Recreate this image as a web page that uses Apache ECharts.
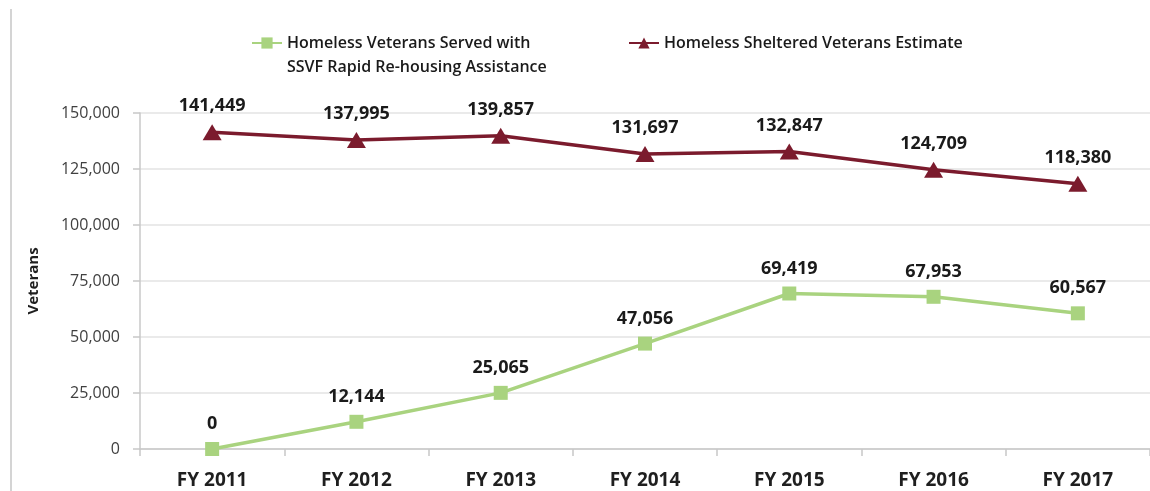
<!DOCTYPE html>
<html>
<head>
<meta charset="utf-8">
<style>
  html, body { margin: 0; padding: 0; background: #ffffff; }
  #chart { width: 1150px; height: 491px; }
</style>
<script src="https://cdn.jsdelivr.net/npm/echarts@6/dist/echarts.min.js"></script>
</head>
<body>
<div id="chart"></div>
<script>
// Fiscal years on the category axis
const years = ['FY 2011', 'FY 2012', 'FY 2013', 'FY 2014', 'FY 2015', 'FY 2016', 'FY 2017'];

// Veterans served with SSVF rapid re-housing assistance
const ssvfServed = [0, 12144, 25065, 47056, 69419, 67953, 60567];

// Estimated number of sheltered homeless veterans
const shelteredEstimate = [141449, 137995, 139857, 131697, 132847, 124709, 118380];

// Value axis ticks
const yMin = 0;
const yMax = 150000;
const yStep = 25000;

const seriesNames = [
  'Homeless Veterans Served with SSVF Rapid Re-housing Assistance',
  'Homeless Sheltered Veterans Estimate'
];

const GREEN = '#a9d37f';
const MAROON = '#7b1b2d';
const FONT = '"Open Sans", "Noto Sans", sans-serif';

const fmt = v => v.toLocaleString('en-US');

const chart = echarts.init(document.getElementById('chart'), null, { renderer: 'canvas' });

const labelStyle = {
  show: true,
  position: 'top',
  distance: 9,
  fontFamily: FONT,
  fontSize: 18,
  fontWeight: 'bold',
  color: '#1a1a1a',
  formatter: p => fmt(p.value)
};

const legendText = {
  fontFamily: FONT,
  fontSize: 16,
  fontWeight: 600,
  color: '#1a1a1a',
  lineHeight: 24
};

chart.setOption({
  animation: false,
  backgroundColor: '#ffffff',
  textStyle: { fontFamily: FONT },
  graphic: [{
    type: 'line',
    shape: { x1: 11, y1: 9, x2: 11, y2: 491 },
    style: { stroke: '#d4d4d4', lineWidth: 2 },
    silent: true
  }],
  legend: [
    {
      // leading blank line keeps the marker level with the first text line
      data: [seriesNames[0]],
      formatter: () => '\nHomeless Veterans Served with\nSSVF Rapid Re-housing Assistance',
      left: 246,
      top: 2,
      itemWidth: 30,
      itemHeight: 14,
      itemGap: 0,
      textStyle: legendText
    },
    {
      data: [seriesNames[1]],
      left: 623,
      top: 26,
      itemWidth: 30,
      itemHeight: 14,
      textStyle: legendText
    }
  ],
  grid: {
    left: 140,
    top: 113,
    width: 1016,
    height: 336,
    containLabel: false
  },
  xAxis: {
    type: 'category',
    data: years,
    boundaryGap: true,
    axisLine: { show: true, lineStyle: { color: '#c8c8c8', width: 1.5 } },
    axisTick: { show: true, length: 7, lineStyle: { color: '#c8c8c8', width: 1.5 } },
    axisLabel: {
      margin: 22,
      fontFamily: FONT,
      fontSize: 19,
      fontWeight: 'bold',
      color: '#1f1f1f'
    },
    splitLine: { show: false }
  },
  yAxis: {
    type: 'value',
    min: yMin,
    max: yMax,
    interval: yStep,
    name: 'Veterans',
    nameLocation: 'middle',
    nameGap: 99,
    nameRotate: 90,
    nameTextStyle: {
      fontFamily: FONT,
      fontSize: 15,
      fontWeight: 'bold',
      color: '#1f1f1f'
    },
    axisLine: { show: true, lineStyle: { color: '#c8c8c8', width: 1.5 } },
    axisTick: { show: true, length: 7, lineStyle: { color: '#c8c8c8', width: 1.5 } },
    axisLabel: {
      margin: 20,
      fontFamily: FONT,
      fontSize: 16,
      color: '#404040',
      formatter: v => fmt(v)
    },
    splitLine: { show: true, lineStyle: { color: '#e3e3e3', width: 1.5 } }
  },
  series: [
    {
      name: seriesNames[0],
      type: 'line',
      data: ssvfServed,
      symbol: 'rect',
      symbolSize: 14,
      color: GREEN,
      lineStyle: { color: GREEN, width: 3.5 },
      itemStyle: { color: GREEN },
      label: labelStyle,
      z: 3
    },
    {
      name: seriesNames[1],
      type: 'line',
      data: shelteredEstimate,
      symbol: 'triangle',
      symbolSize: [19, 16],
      color: MAROON,
      lineStyle: { color: MAROON, width: 3.5 },
      itemStyle: { color: MAROON },
      label: labelStyle,
      z: 3
    }
  ]
});
</script>
</body>
</html>
